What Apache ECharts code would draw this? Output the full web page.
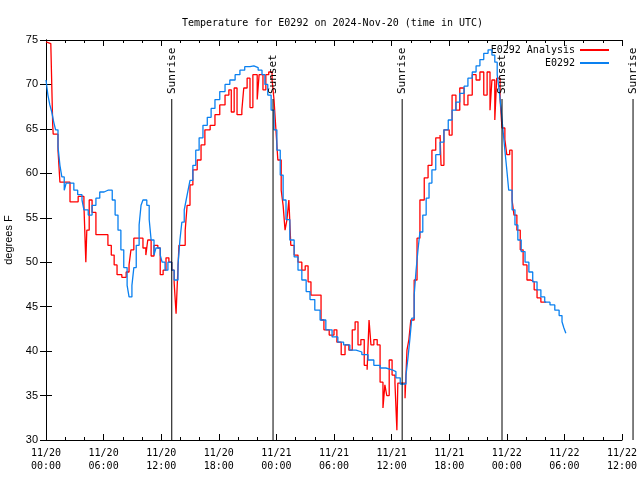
<!DOCTYPE html>
<html><head><meta charset="utf-8">
<script src="https://cdn.jsdelivr.net/npm/echarts@6/dist/echarts.min.js"></script>
<style>html,body{margin:0;padding:0;background:#fff}#c{width:640px;height:480px}</style>
</head><body><div id="c"></div>
<script>
// hours since 2024-11-20 00:00 UTC
const blueT = [0,0.2,0.4,0.6,0.8,1.0,1.25,1.45,1.65,1.9,2.1,2.5,2.9,3.3,3.75,3.95,4.4,4.8,5.2,5.6,6.05,6.45,6.9,7.2,7.5,7.8,8.1,8.45,8.65,8.95,9.15,9.4,9.7,9.9,10.1,10.5,10.75,10.95,11.25,11.45,11.9,12.1,12.4,12.7,13.1,13.35,13.75,13.95,14.15,14.4,14.6,14.8,15.0,15.3,15.6,15.95,16.35,16.8,17.2,17.6,18.1,18.65,19.15,19.7,20.2,20.7,21.25,21.65,22.1,22.5,22.8,23.1,23.45,23.75,24.05,24.4,24.7,25.0,25.4,25.85,26.25,26.65,27.1,27.5,28.0,28.55,29.15,29.8,30.4,31.0,31.65,32.3,32.9,33.55,34.15,34.8,35.4,36.05,36.45,36.9,37.5,37.7,37.9,38.1,38.35,38.55,38.75,38.95,39.25,39.6,39.9,40.2,40.6,41.05,41.45,41.9,42.3,42.7,43.1,43.55,43.95,44.4,44.8,45.2,45.6,46.05,46.45,46.75,47.0,47.2,47.4,47.6,47.8,48.0,48.2,48.55,48.85,49.15,49.5,49.9,50.3,50.7,51.15,51.55,51.95,52.5,53.0,53.45,53.75,53.95,54.15];
const blueV = [70.5,68.8,67.7,66.9,65.8,64.9,63.0,60.9,59.6,58.1,58.9,58.9,58.1,57.6,57.0,55.9,55.3,56.4,57.2,57.9,58.1,58.1,57.0,55.3,53.6,51.4,49.4,47.4,46.1,47.4,49.4,51.9,54.2,56.4,57.0,56.4,54.8,52.5,50.8,51.6,50.8,50.0,49.1,50.0,49.1,48.0,49.7,52.5,54.5,55.9,57.0,58.1,59.2,60.9,62.6,64.0,65.4,66.3,67.3,68.3,69.2,70.0,70.5,71.1,71.6,72.0,72.1,71.9,71.6,71.1,70.0,68.8,67.1,64.9,62.6,59.8,57.0,54.8,52.5,50.6,49.1,48.0,46.7,45.8,44.6,43.5,42.4,41.6,41.0,40.7,40.1,39.9,39.6,39.0,38.4,38.1,37.9,37.7,37.0,36.3,37.3,39.2,41.3,43.7,46.3,49.1,51.4,53.4,55.3,57.2,58.9,60.4,62.1,63.5,64.9,66.0,67.1,68.0,69.0,69.8,70.7,71.4,72.1,72.8,73.5,73.9,73.3,72.5,71.1,69.4,67.3,64.9,62.6,60.4,58.1,55.9,54.2,52.5,51.2,50.0,48.9,47.8,46.9,46.1,45.5,45.2,44.6,44.0,43.3,42.6,42.0];

const redT = [0,0.2,0.5,0.6,0.7,0.75,1.25,1.45,2.5,3.35,3.95,4.15,4.25,4.5,4.8,5.2,6.15,6.45,6.8,7.1,7.4,7.9,8.35,8.65,8.85,9.15,9.8,10.1,10.4,10.6,10.95,11.25,11.65,11.9,12.2,12.5,12.8,13.1,13.35,13.55,13.65,13.85,14.25,14.5,14.7,15.0,15.3,15.75,16.15,16.55,17.1,17.6,18.1,18.65,19.05,19.3,19.6,19.9,20.4,20.6,20.95,21.25,21.55,22.0,22.2,22.6,22.9,23.2,23.55,23.75,23.95,24.15,24.5,24.7,24.9,25.1,25.3,25.5,25.85,26.25,26.65,27.0,27.3,27.6,28.35,28.65,28.95,29.5,30.0,30.3,30.75,31.15,31.55,31.9,32.2,32.5,32.8,33.15,33.45,33.65,33.85,34.15,34.5,34.8,35.1,35.3,35.5,35.75,36.05,36.35,36.55,36.65,37.1,37.4,37.6,37.8,38.0,38.35,38.65,38.95,39.4,39.8,40.2,40.6,41.05,41.15,41.45,42.0,42.3,42.7,43.1,43.55,43.95,44.4,44.8,45.2,45.6,45.95,46.25,46.45,46.75,46.95,47.3,47.5,47.8,48.0,48.3,48.55,48.75,49.05,49.4,49.7,50.1,50.5,50.85,51.15,51.55,52.1];
const redV = [74.8,74.6,74.4,70.0,65.4,64.4,62.6,59.0,56.8,57.4,56.4,50.0,53.6,57.0,55.6,53.1,53.1,51.9,50.8,49.7,48.6,48.3,48.9,49.7,51.4,52.7,52.7,51.6,50.8,52.5,50.7,51.9,51.6,48.6,49.1,50.5,50.0,49.1,47.7,44.2,46.9,51.9,51.9,53.6,56.4,58.7,60.4,61.5,63.2,64.9,65.4,66.6,67.7,68.8,69.4,66.9,69.6,66.6,67.1,69.6,70.7,67.4,71.1,68.3,71.1,69.4,71.1,71.4,70.5,68.3,64.9,61.5,58.1,56.4,53.6,54.8,57.0,51.9,50.8,50.0,49.1,49.6,47.8,46.3,46.3,43.5,42.4,41.8,42.4,41.0,39.6,40.7,40.1,42.4,43.3,40.7,41.3,38.4,37.9,43.5,40.7,41.3,40.7,36.5,33.6,36.2,35.0,39.0,37.3,36.4,31.1,36.4,36.4,34.7,40.1,41.3,43.5,48.0,52.7,57.0,59.5,60.9,62.6,64.0,64.3,60.9,64.9,64.3,68.8,67.1,69.6,67.7,68.8,71.1,70.5,71.4,68.8,71.4,67.1,70.5,66.0,70.7,68.3,65.1,63.8,62.1,62.6,57.0,55.3,53.6,51.4,49.7,48.0,47.8,46.9,46.0,45.5,45.5];

const sunT = [13.1, 23.65, 37.1, 47.5, 61.15];
const sunLabels = ['Sunrise','Sunset','Sunrise','Sunset','Sunrise'];

const yTicks = {min:30, max:75, interval:5};
const xTicks = {min:0, max:60, interval:6};

const zip = (t,v) => t.map((x,i)=>[x,v[i]]);
const mono = 'DejaVu Sans Mono';
const fmtX = h => { const d = 20 + Math.floor(h/24); const hh = h % 24; return '11/' + d + '\n' + String(hh).padStart(2,'0') + ':00'; };

const chart = echarts.init(document.getElementById('c'), null, {renderer:'canvas'});
const axisLine = {show:true, lineStyle:{color:'#000', width:1}};
chart.setOption({
  animation:false,
  backgroundColor:'#fff',
  title:{text:'Temperature for E0292 on 2024-Nov-20 (time in UTC)', left:177, top:13,
    textStyle:{fontFamily:mono, fontSize:10, fontWeight:'normal', color:'#000'}},
  grid:{left:46, right:18, top:40, bottom:40, containLabel:false, outerBoundsMode:'none'},
  legend:[
    {data:['E0292 Analysis'], right:31, top:45, align:'right', orient:'vertical', itemWidth:29, itemHeight:2, icon:'rect', itemGap:0,
     textStyle:{fontFamily:mono, fontSize:10, color:'#000'}, padding:0},
    {data:['E0292'], right:31, top:58, align:'right', orient:'vertical', itemWidth:29, itemHeight:2, icon:'rect', itemGap:0,
     textStyle:{fontFamily:mono, fontSize:10, color:'#000'}, padding:0}
  ],
  xAxis:[
    {type:'value', min:xTicks.min, max:xTicks.max, interval:xTicks.interval, axisLine,
     axisTick:{inside:true, length:6, lineStyle:{color:'#000'}},
     minorTick:{show:true, splitNumber:3, length:3, lineStyle:{color:'#000'}},
     splitLine:{show:false},
     axisLabel:{formatter:fmtX, fontFamily:mono, fontSize:10, color:'#000', lineHeight:13, margin:7}},
    {type:'value', position:'top', min:xTicks.min, max:xTicks.max, interval:xTicks.interval, axisLine,
     axisTick:{inside:true, length:6, lineStyle:{color:'#000'}},
     minorTick:{show:true, splitNumber:3, length:3, lineStyle:{color:'#000'}},
     splitLine:{show:false}, axisLabel:{show:false}}
  ],
  yAxis:[
    {type:'value', min:yTicks.min, max:yTicks.max, interval:yTicks.interval, axisLine,
     axisTick:{inside:true, length:6, lineStyle:{color:'#000'}}, splitLine:{show:false},
     axisLabel:{fontFamily:'Liberation Sans', fontSize:11, color:'#000', margin:8},
     name:'degrees F', nameLocation:'middle', nameGap:29, nameRotate:90,
     nameTextStyle:{fontFamily:'Liberation Sans', fontSize:11, color:'#000'}},
    {type:'value', position:'right', min:yTicks.min, max:yTicks.max, interval:yTicks.interval, axisLine,
     axisTick:{inside:true, length:6, lineStyle:{color:'#000'}}, splitLine:{show:false}, axisLabel:{show:false}}
  ],
  series:[
    {name:'E0292 Analysis', type:'line', step:'end', data:zip(redT,redV), showSymbol:false, symbol:'none',
     lineStyle:{color:'#ff0000', width:1.3}, itemStyle:{color:'#ff0000'}, z:3},
    {name:'E0292', type:'line', step:'end', data:zip(blueT,blueV), showSymbol:false, symbol:'none',
     lineStyle:{color:'#0a80f0', width:1.3}, itemStyle:{color:'#0a80f0'}, z:4},
    {name:'sun', type:'custom', clip:false, silent:true, z:5,
     data:sunT.map((t,i)=>[t,i]),
     renderItem:(params, api) => {
       const t = api.value(0), i = api.value(1);
       const pb = api.coord([t, yTicks.min]);
       const pt = api.coord([t, yTicks.max]);
       const top = pt[1] + 59;
       return {type:'group', children:[
         {type:'line', shape:{x1:pb[0], y1:top, x2:pb[0], y2:pb[1]}, style:{stroke:'#000', lineWidth:1}},
         {type:'text', x:pb[0], y:top-5, rotation:Math.PI/2,
          style:{text:sunLabels[i], x:0, y:0, align:'left', verticalAlign:'middle', fill:'#000', font:'11px "DejaVu Sans Mono"'}}
       ]};
     }}
  ]
});
</script></body></html>
